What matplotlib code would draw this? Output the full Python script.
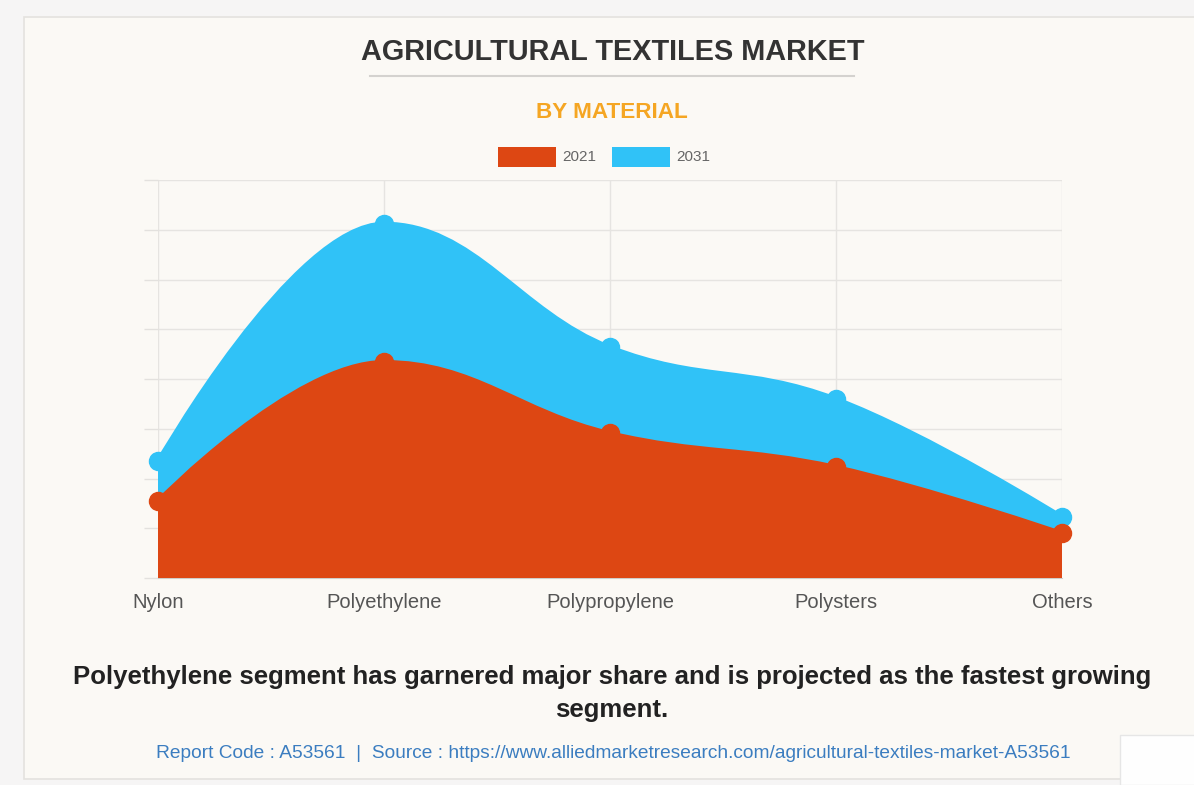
import matplotlib.pyplot as plt
from matplotlib.path import Path
from matplotlib.patches import PathPatch, Rectangle
from matplotlib.lines import Line2D

# Categories and values (share index, one grid step = 1 unit)
materials = ["Nylon", "Polyethylene", "Polypropylene", "Polysters", "Others"]
values_2021 = [1.55, 4.34, 2.91, 2.23, 0.90]
values_2031 = [2.35, 7.12, 4.64, 3.60, 1.23]
years = ["2021", "2031"]

RED = "#dd4713"
BLUE = "#30c2f7"
CARD = "#fbf9f5"

plt.rcParams["font.family"] = ["Liberation Sans", "DejaVu Sans"]


def spline_path(xs, ys, base=0.0, smoothing=1.5):
    """Bezier path through the points, closed down to the baseline."""
    denom = smoothing + 1
    n = len(xs)
    left, right = [], []
    for i in range(n):
        x, y = xs[i], ys[i]
        if i == 0 or i == n - 1:
            left.append((x, y))
            right.append((x, y))
            continue
        lx, ly = xs[i - 1], ys[i - 1]
        nx, ny = xs[i + 1], ys[i + 1]
        lcx = (smoothing * x + lx) / denom
        lcy = (smoothing * y + ly) / denom
        rcx = (smoothing * x + nx) / denom
        rcy = (smoothing * y + ny) / denom
        corr = ((rcy - lcy) * (rcx - x)) / (rcx - lcx) + y - rcy
        lcy += corr
        rcy += corr
        # keep control points from overshooting neighbours
        if lcy > max(ly, y):
            lcy = max(ly, y)
            rcy = 2 * y - lcy
        elif lcy < min(ly, y):
            lcy = min(ly, y)
            rcy = 2 * y - lcy
        if rcy > max(y, ny):
            rcy = max(y, ny)
            lcy = 2 * y - rcy
        elif rcy < min(y, ny):
            rcy = min(y, ny)
            lcy = 2 * y - rcy
        left.append((lcx, lcy))
        right.append((rcx, rcy))

    verts = [(xs[0], base), (xs[0], ys[0])]
    codes = [Path.MOVETO, Path.LINETO]
    for i in range(n - 1):
        verts += [right[i], left[i + 1], (xs[i + 1], ys[i + 1])]
        codes += [Path.CURVE4] * 3
    verts += [(xs[-1], base), (xs[0], base)]
    codes += [Path.LINETO, Path.CLOSEPOLY]
    edge = Path(verts[1:-2], codes[:1] + codes[2:-2])
    return Path(verts, codes), edge


fig = plt.figure(figsize=(11.94, 7.85), dpi=100)
fig.patch.set_facecolor("#f6f5f5")

# card behind the chart
fig.add_artist(Rectangle((24 / 1194, 1 - 779 / 785), 1, (779 - 17) / 785,
                         transform=fig.transFigure, facecolor=CARD,
                         edgecolor="#e4e2df", linewidth=1.2, zorder=0))
fig.add_artist(Rectangle((1120 / 1194, 0), 1, (785 - 735) / 785,
                         transform=fig.transFigure, facecolor="#fefefe",
                         edgecolor="#e6e6e6", linewidth=1, zorder=1))

ax = fig.add_axes([158 / 1194, 1 - 578 / 785, (1062 - 158) / 1194, (578 - 180) / 785])
ax.set_facecolor("none")
ax.set_xlim(0, len(materials) - 1)
ax.set_ylim(0, 8)
xs = list(range(len(materials)))

for vals, color, z in [(values_2031, BLUE, 2), (values_2021, RED, 3)]:
    area, edge = spline_path(xs, vals)
    ax.add_patch(PathPatch(area, facecolor=color, edgecolor="none", zorder=z,
                           clip_on=False))
    ax.add_patch(PathPatch(edge, facecolor="none", edgecolor=color, linewidth=3,
                           zorder=z, clip_on=False))
    ax.plot(xs, vals, "o", color=color, markersize=13, zorder=z + 0.5, clip_on=False)

ax.set_yticks(range(0, 9))
ax.set_yticklabels([])
ax.set_xticks(xs)
ax.set_xticklabels(materials, fontsize=14.5, color="#555555")
ax.tick_params(axis="x", length=0, pad=11)
ax.tick_params(axis="y", length=10, color="#e3e1de", width=1)
ax.grid(True, color="#e6e4e1", linewidth=1, zorder=0)
ax.set_axisbelow(True)
for side in ["top", "right", "left"]:
    ax.spines[side].set_visible(False)
ax.spines["bottom"].set_color("#cfcdca")

# titles
fig.text(613 / 1194, 1 - 52 / 785, "AGRICULTURAL TEXTILES MARKET", ha="center",
         va="center", fontsize=20.8, fontweight="bold", color="#333333")
fig.add_artist(Line2D([370 / 1194, 854 / 1194], [1 - 76 / 785, 1 - 76 / 785],
                      color="#d4d2cf", linewidth=1.5))
fig.text(612 / 1194, 1 - 113 / 785, "BY MATERIAL", ha="center", va="center",
         fontsize=16.2, fontweight="bold", color="#f5a623")

# legend
for i, (label, color) in enumerate(zip(years, [RED, BLUE])):
    x0 = 498 + i * 114
    fig.add_artist(Rectangle((x0 / 1194, 1 - 167 / 785), 58 / 1194, 20 / 785,
                             transform=fig.transFigure, facecolor=color,
                             edgecolor="none"))
    fig.text((x0 + 64) / 1194, 1 - 157 / 785, label, ha="left", va="center",
             fontsize=11, color="#666666")

# footer
fig.text(612 / 1194, 1 - 677 / 785,
         "Polyethylene segment has garnered major share and is projected as the fastest growing",
         ha="center", va="center", fontsize=18.5, fontweight="bold", color="#222222")
fig.text(612 / 1194, 1 - 710 / 785, "segment.", ha="center", va="center",
         fontsize=18.5, fontweight="bold", color="#222222")
fig.text(613 / 1194, 1 - 754 / 785,
         "Report Code : A53561  |  Source : https://www.alliedmarketresearch.com/agricultural-textiles-market-A53561",
         ha="center", va="center", fontsize=13.8, color="#3b7dc0")

fig.savefig("out.png", dpi=100, facecolor=fig.get_facecolor())
